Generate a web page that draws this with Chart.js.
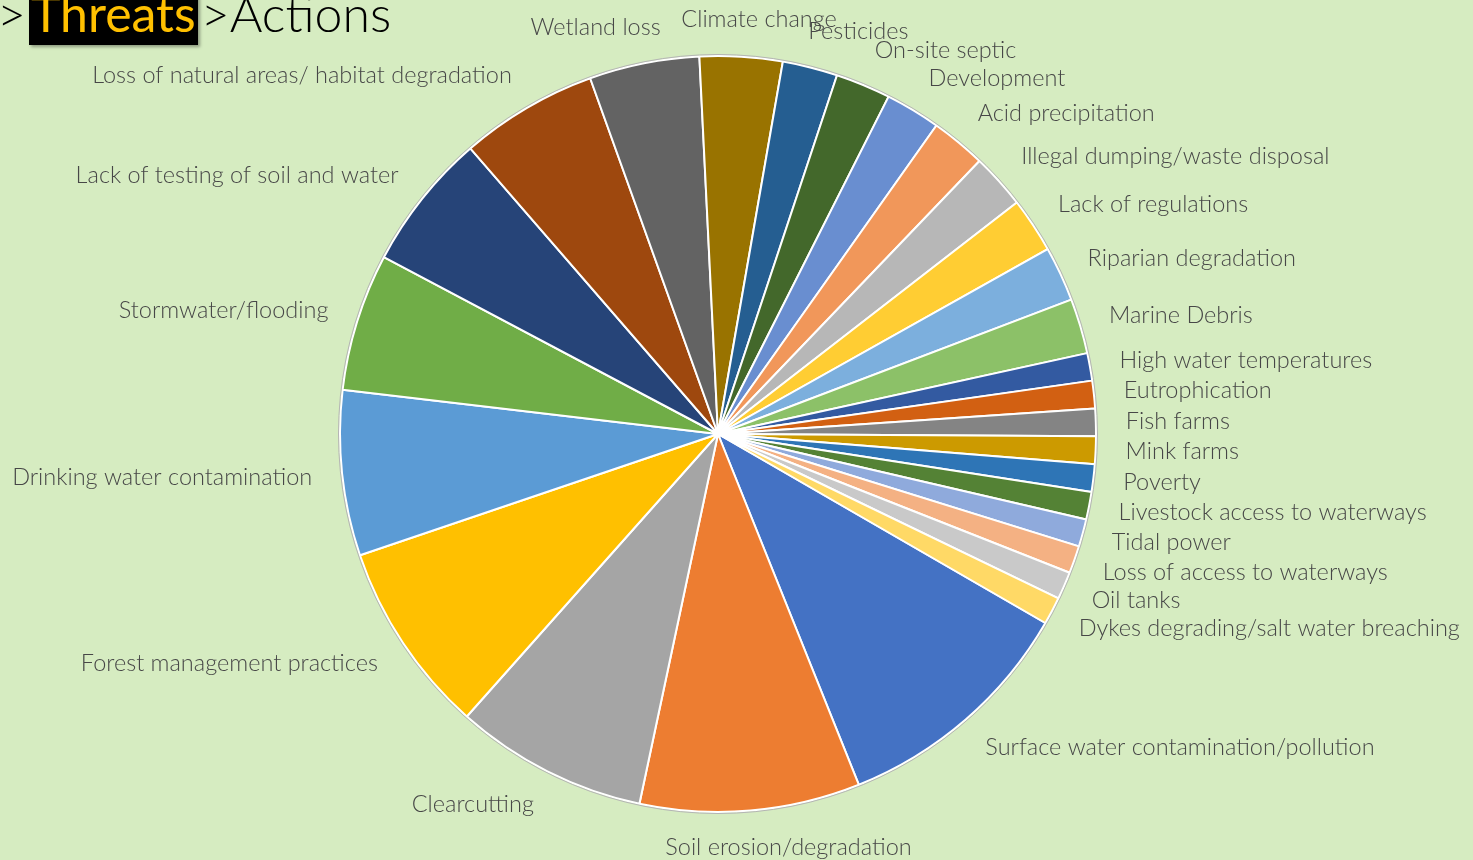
<!DOCTYPE html>
<html>
<head>
<meta charset="utf-8">
<script src="https://cdn.jsdelivr.net/npm/chart.js@4.4.0/dist/chart.umd.min.js"></script>
<style>
  html, body { margin: 0; padding: 0; background: #d6ecc1; overflow: hidden; }
  #wrap { position: relative; width: 1473px; height: 860px; }
  #title {
    position: absolute; left: -3px; top: -18px; margin: 0;
    font: 300 50px 'Lato', sans-serif; color: #000; white-space: nowrap; line-height: 62px;
  }
  #title .hl { background: #000; color: #ffc000; font-weight: 400; padding: 0 2px 2px 2px; margin: 0 3px 0 3px; box-shadow: 2px 2px 3px rgba(0,0,0,0.35); }
</style>
</head>
<body>
<div id="wrap">
  <canvas id="chart" width="1473" height="860"></canvas>
  <div id="title">&gt;<span class="hl">Threats</span>&gt;Actions</div>
</div>
<script>
const THREATS = [
  'Surface water contamination/pollution', 'Soil erosion/degradation', 'Clearcutting',
  'Forest management practices', 'Drinking water contamination', 'Stormwater/flooding',
  'Lack of testing of soil and water', 'Loss of natural areas/ habitat degradation', 'Wetland loss',
  'Climate change', 'Pesticides', 'On-site septic', 'Development', 'Acid precipitation',
  'Illegal dumping/waste disposal', 'Lack of regulations', 'Riparian degradation', 'Marine Debris',
  'High water temperatures', 'Eutrophication', 'Fish farms', 'Mink farms', 'Poverty',
  'Livestock access to waterways', 'Tidal power', 'Loss of access to waterways', 'Oil tanks',
  'Dykes degrading/salt water breaching',
];
const MENTIONS = [9, 8, 7, 7, 6, 5, 5, 5, 4, 3, 2, 2, 2, 2, 2, 2, 2, 2, 1, 1, 1, 1, 1, 1, 1, 1, 1, 1];
const SLICE_COLORS = [
  '#4472c4', '#ed7d31', '#a5a5a5', '#ffc000', '#5b9bd5', '#70ad47',
  '#264478', '#9e480e', '#636363', '#997300', '#255e91', '#43682b',
  '#698ed0', '#f1975a', '#b7b7b7', '#ffcd33', '#7cafdd', '#8cc168',
  '#335aa1', '#d26012', '#848484', '#cc9a00', '#2e75b6', '#548235',
  '#8faadc', '#f4b183', '#c9c9c9', '#ffd966',
];

const LABEL_FONT = '300 23.5px Lato, sans-serif';

// outside-end labels, placed off each arc's mid angle
const outsideLabels = {
  id: 'outsideLabels',
  afterDatasetsDraw(chart) {
    const { ctx } = chart;
    const arcs = chart.getDatasetMeta(0).data;
    ctx.save();

    // thin grey rim round the pie
    const first = arcs[0].getProps(['x', 'y', 'outerRadius'], true);
    ctx.beginPath();
    ctx.arc(first.x, first.y, first.outerRadius + 1.5, 0, Math.PI * 2);
    ctx.strokeStyle = '#b4b4b4';
    ctx.lineWidth = 1;
    ctx.stroke();

    ctx.font = LABEL_FONT;
    ctx.fillStyle = '#474747';
    ctx.textBaseline = 'middle';
    arcs.forEach((arc, i) => {
      const { x, y, startAngle, endAngle, outerRadius } = arc.getProps(['x', 'y', 'startAngle', 'endAngle', 'outerRadius'], true);
      const mid = (startAngle + endAngle) / 2;
      const ux = Math.cos(mid);
      const uy = Math.sin(mid);
      const ax = x + (outerRadius + 30) * ux;
      const ay = y + (outerRadius + 28) * uy + 9 * uy;
      const text = chart.data.labels[i];
      const w = ctx.measureText(text).width;
      let tx;
      if (Math.abs(ux) >= 0.3) {
        tx = ux > 0 ? ax : ax - w;
      } else {
        tx = ax + (w / 2) * (ux / 0.3) - w / 2;
      }
      ctx.textAlign = 'left';
      ctx.fillText(text, tx, ay);
    });
    ctx.restore();
  },
};

new Chart(document.getElementById('chart'), {
  type: 'pie',
  data: {
    labels: THREATS,
    datasets: [
      {
        data: MENTIONS,
        backgroundColor: SLICE_COLORS,
        borderColor: '#ffffff',
        borderWidth: 2,
      },
    ],
  },
  options: {
    responsive: false,
    animation: false,
    rotation: 120,
    layout: { padding: { top: 55, bottom: 47, left: 339, right: 376 } },
    plugins: {
      legend: { display: false },
      tooltip: { enabled: false },
    },
  },
  plugins: [outsideLabels],
});
</script>
</body>
</html>
